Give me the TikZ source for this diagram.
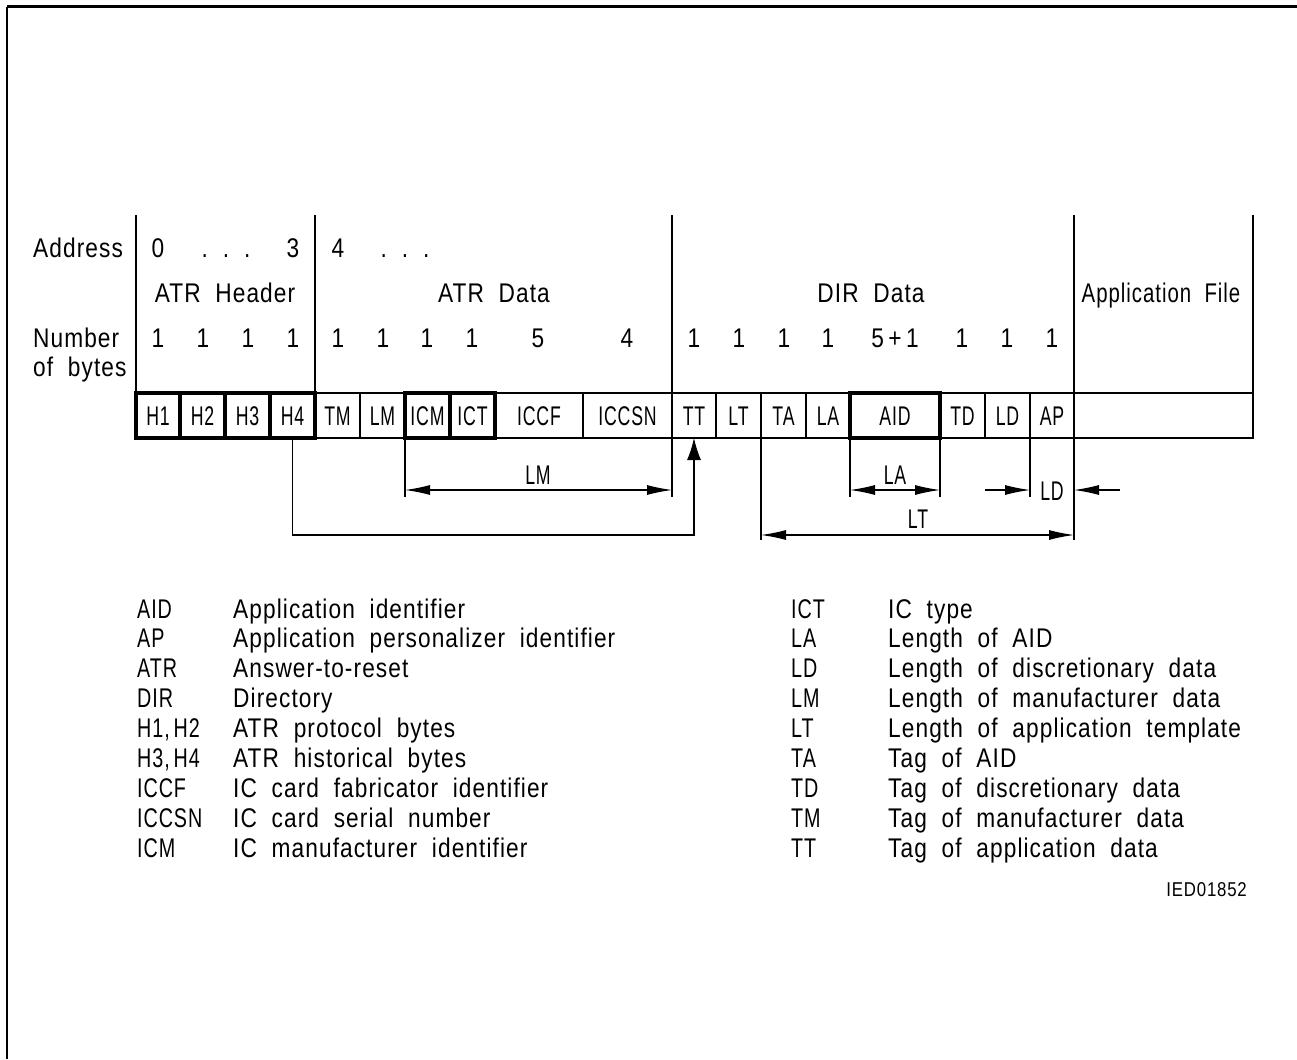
\documentclass[tikz,border=0pt]{standalone}
\usepackage{fontspec}
\setmainfont[FakeStretch=0.84,LetterSpace=4,WordSpace=2]{Liberation Sans}
\usetikzlibrary{arrows.meta}
\newcommand{\narrowcaps}[1]{\scalebox{0.78}[1]{#1}}
\newcommand{\legcaps}[1]{\scalebox{0.87}[1]{#1}}
\begin{document}
\begin{tikzpicture}[x=1pt,y=-1pt,
  thin line/.style={line width=1.1pt},
  thick box/.style={line width=3.6pt},
  cell/.style={draw,line width=1.1pt,minimum height=45pt,inner sep=0pt,outer sep=0pt,anchor=north west},
  txt/.style={inner sep=0pt,anchor=base,font=\fontsize{27}{32}\selectfont},
  ltxt/.style={txt,anchor=base west},
  dim/.style={line width=1.1pt,{Latex[length=25pt,width=10pt]}-{Latex[length=25pt,width=10pt]}},
  dimr/.style={line width=1.1pt,-{Latex[length=25pt,width=10pt]}}]
\useasboundingbox (0,0) rectangle (1297,1059);
\fill[white] (0,0) rectangle (1297,1059);
% frame
\draw[line width=3pt] (7,7) -- (1297,7);
\draw[thin line] (7,7) -- (7,1059);
% column separators
\foreach \x in {136,315,672,1074,1253} \draw[thin line] (\x,215) -- (\x,393);
% header texts
\node[ltxt] (addr) at (33,257) {Address};
\node[txt] (a0) at (158,257) {0};
\node[txt] (ad1) at (226,257) {.\hspace{15pt}.\hspace{15pt}.};
\node[txt] (a3) at (293,257) {3};
\node[txt] (a4) at (338,257) {4};
\node[txt] (ad2) at (405,257) {.\hspace{15pt}.\hspace{15pt}.};
\node[txt] (hATRH) at (225,302) {ATR Header};
\node[txt] (hATRD) at (494,302) {ATR Data};
\node[txt] (hDIR) at (871,302) {DIR Data};
\node[txt] (hAPP) at (1161,302) {\scalebox{0.9}[1]{Application File}};
\node[ltxt] (num) at (33,347) {Number};
\node[ltxt] (ofb) at (33,376) {of bytes};
\foreach \x/\t [count=\i] in {158/1,203/1,248/1,293/1,338/1,383/1,427/1,472/1,538/5,627/4,694/1,739/1,784/1,828/1,895/5\,+\,1,962/1,1007/1,1052/1}
  \node[txt] (n\i) at (\x,347) {\t};
% byte cells
\foreach \nm/\xa/\xb in {H1/136/180,H2/180/225,H3/225/270,H4/270/315,TM/315/360,LM/360/405,ICM/405/450,ICT/450/495,ICCF/495/583,ICCSN/583/672,TT/672/716,LT/716/761,TA/761/806,LA/806/850,AID/850/940,TD/940/985,LD/985/1030,AP/1030/1074}
  \node[cell,minimum width={\xb-\xa}] (\nm) at (\xa,393) {};
\node[cell,minimum width=179] (AF) at (1074,393) {};
\foreach \nm in {H1,H2,H3,H4,TM,LM,ICM,ICT,ICCF,ICCSN,TT,LT,TA,LA,AID,TD,LD,AP}
  \node[txt] at ([yshift=-10pt]\nm.center) {\narrowcaps{\nm}};
% thick boxes
\foreach \nm in {H1,H2,H3,H4,ICM,ICT,AID}
  \draw[thick box] (\nm.north west) rectangle (\nm.south east);
% H4 -> TT connector
\draw[thin line,-{Latex[length=22pt,width=14pt]}] (H4.south) -- ++(0,97) -| (TT.south);
% LM dimension
\coordinate (lm1) at ([yshift=-59pt]ICM.south west);
\coordinate (lm2) at ([yshift=-59pt]ICCSN.south east);
\draw[thin line] (ICM.south west) -- (lm1);
\draw[thin line] (ICCSN.south east) -- (lm2);
\draw[dim] ([yshift=7pt]lm1) -- ([yshift=7pt]lm2);
\node[txt] (dLM) at (538,484) {\narrowcaps{LM}};
% LA dimension
\coordinate (la1) at ([yshift=-59pt]AID.south west);
\coordinate (la2) at ([yshift=-59pt]AID.south east);
\draw[thin line] (AID.south west) -- (la1);
\draw[thin line] (AID.south east) -- (la2);
\draw[dim] ([yshift=7pt]la1) -- ([yshift=7pt]la2);
\node[txt] (dLA) at (895,484) {\narrowcaps{LA}};
% LD dimension
\coordinate (ld1) at ([yshift=-59pt]AP.south west);
\draw[thin line] (AP.south west) -- (ld1);
\coordinate (ldl) at (985,490);
\coordinate (ldr) at (1120,490);
\draw[dimr] (ldl) -- (ld1 |- ldl);
\draw[dimr] (ldr) -- (AP.south east |- ldr);
\node[txt] (dLD) at (1052,500) {\narrowcaps{LD}};
% LT dimension
\coordinate (lt1) at ([yshift=-102pt]TA.south west);
\coordinate (lt2) at ([yshift=-102pt]AP.south east);
\draw[thin line] (TA.south west) -- (lt1);
\draw[thin line] (AP.south east) -- (lt2);
\draw[dim] ([yshift=5pt]lt1) -- ([yshift=5pt]lt2);
\node[txt] (dLT) at (918,528) {\narrowcaps{LT}};
% legend
\foreach \a/\d [count=\i from 0] in {AID/Application identifier,AP/Application personalizer identifier,ATR/Answer-to-reset,DIR/Directory,{H1,\,H2}/ATR protocol bytes,{H3,\,H4}/ATR historical bytes,ICCF/IC card fabricator identifier,ICCSN/IC card serial number,ICM/IC manufacturer identifier}{
  \node[ltxt] (la\i) at (137,618+29.9*\i) {\legcaps{\a}};
  \node[ltxt] (ld\i) at (233,618+29.9*\i) {\d};
}
\foreach \a/\d [count=\i from 0] in {ICT/IC type,LA/Length of AID,LD/Length of discretionary data,LM/Length of manufacturer data,LT/Length of application template,TA/Tag of AID,TD/Tag of discretionary data,TM/Tag of manufacturer data,TT/Tag of application data}{
  \node[ltxt] (ra\i) at (791,618+29.9*\i) {\legcaps{\a}};
  \node[ltxt] (rd\i) at (888,618+29.9*\i) {\d};
}
\node[txt,anchor=base east,font=\fontsize{20}{24}\selectfont] (ied) at (1247,896) {IED01852};
\end{tikzpicture}
\end{document}
